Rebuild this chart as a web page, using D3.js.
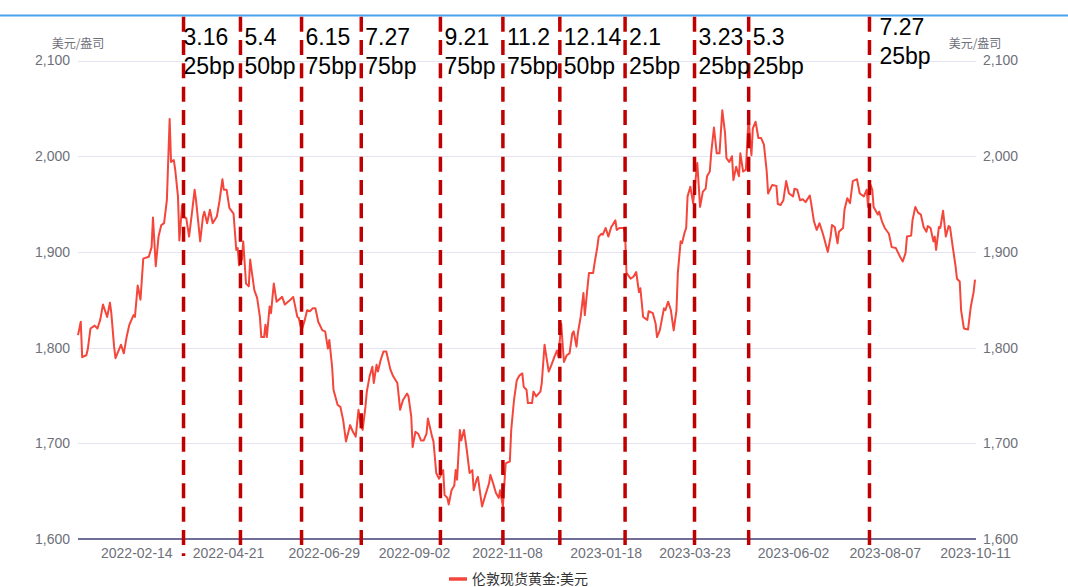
<!DOCTYPE html>
<html><head><meta charset="utf-8">
<script src="https://cdn.jsdelivr.net/npm/d3@7"></script>
<style>html,body{margin:0;padding:0;background:#fff;} svg{display:block;}</style>
</head><body><svg id="chart" width="1068" height="587"></svg>
<script>
// ---- data ----
const dates = [
"2022-01-03","2022-01-05","2022-01-06","2022-01-09","2022-01-10","2022-01-12","2022-01-15","2022-01-17","2022-01-19","2022-01-21",
"2022-01-24","2022-01-26","2022-01-27","2022-01-29","2022-01-30","2022-02-01","2022-02-03","2022-02-05","2022-02-07","2022-02-09",
"2022-02-12","2022-02-13","2022-02-15","2022-02-17","2022-02-19","2022-02-23","2022-02-25","2022-02-26","2022-02-28","2022-03-02",
"2022-03-04","2022-03-06","2022-03-08","2022-03-10","2022-03-11","2022-03-13","2022-03-14","2022-03-16","2022-03-17","2022-03-19",
"2022-03-20","2022-03-22","2022-03-24","2022-03-26","2022-03-28","2022-03-29","2022-04-01","2022-04-03","2022-04-04","2022-04-06",
"2022-04-08","2022-04-10","2022-04-13","2022-04-15","2022-04-17","2022-04-18","2022-04-20","2022-04-22","2022-04-25","2022-04-27",
"2022-04-28","2022-04-29","2022-05-01","2022-05-02","2022-05-04","2022-05-06","2022-05-07","2022-05-08","2022-05-10","2022-05-12",
"2022-05-14","2022-05-15","2022-05-17","2022-05-18","2022-05-19","2022-05-21","2022-05-22","2022-05-24","2022-05-26","2022-05-30",
"2022-06-01","2022-06-05","2022-06-07","2022-06-10","2022-06-11","2022-06-13","2022-06-15","2022-06-17","2022-06-19","2022-06-21",
"2022-06-23","2022-06-25","2022-06-28","2022-06-30","2022-07-02","2022-07-03","2022-07-05","2022-07-06","2022-07-09","2022-07-11",
"2022-07-13","2022-07-15","2022-07-18","2022-07-20","2022-07-22","2022-07-24","2022-07-26","2022-07-27","2022-07-29","2022-07-30",
"2022-08-01","2022-08-03","2022-08-04","2022-08-06","2022-08-07","2022-08-09","2022-08-11","2022-08-13","2022-08-16","2022-08-18",
"2022-08-21","2022-08-22","2022-08-23","2022-08-25","2022-08-28","2022-08-29","2022-08-31","2022-09-01","2022-09-03","2022-09-05",
"2022-09-07","2022-09-09","2022-09-11","2022-09-12","2022-09-15","2022-09-16","2022-09-18","2022-09-20","2022-09-23","2022-09-24",
"2022-09-26","2022-09-27","2022-09-29","2022-10-01","2022-10-02","2022-10-03","2022-10-05","2022-10-06","2022-10-08","2022-10-10",
"2022-10-12","2022-10-14","2022-10-15","2022-10-17","2022-10-18","2022-10-20","2022-10-21","2022-10-23","2022-10-26","2022-10-27",
"2022-10-29","2022-10-31","2022-11-02","2022-11-03","2022-11-05","2022-11-07","2022-11-10","2022-11-11","2022-11-13","2022-11-15",
"2022-11-17","2022-11-19","2022-11-20","2022-11-22","2022-11-23","2022-11-26","2022-11-27","2022-11-29","2022-12-02","2022-12-03",
"2022-12-05","2022-12-07","2022-12-08","2022-12-10","2022-12-12","2022-12-14","2022-12-15","2022-12-17","2022-12-18","2022-12-19",
"2022-12-21","2022-12-23","2022-12-25","2022-12-26","2022-12-28","2022-12-29","2022-12-31","2023-01-02","2023-01-03","2023-01-05",
"2023-01-06","2023-01-09","2023-01-10","2023-01-12","2023-01-13","2023-01-15","2023-01-16","2023-01-18","2023-01-20","2023-01-22",
"2023-01-23","2023-01-25","2023-01-26","2023-01-28","2023-01-31","2023-02-01","2023-02-02","2023-02-05","2023-02-07","2023-02-09",
"2023-02-11","2023-02-12","2023-02-14","2023-02-17","2023-02-18","2023-02-21","2023-02-23","2023-02-24","2023-02-26","2023-03-01",
"2023-03-02","2023-03-04","2023-03-06","2023-03-08","2023-03-10","2023-03-11","2023-03-13","2023-03-14","2023-03-16","2023-03-17",
"2023-03-18","2023-03-20","2023-03-22","2023-03-23","2023-03-25","2023-03-27","2023-03-29","2023-03-31","2023-04-01","2023-04-03",
"2023-04-04","2023-04-06","2023-04-08","2023-04-10","2023-04-12","2023-04-14","2023-04-15","2023-04-17","2023-04-19","2023-04-20",
"2023-04-22","2023-04-24","2023-04-25","2023-04-27","2023-04-29","2023-05-01","2023-05-02","2023-05-03","2023-05-04","2023-05-06",
"2023-05-08","2023-05-10","2023-05-12","2023-05-14","2023-05-15","2023-05-18","2023-05-21","2023-05-22","2023-05-24","2023-05-26",
"2023-05-28","2023-05-30","2023-06-02","2023-06-03","2023-06-05","2023-06-07","2023-06-09","2023-06-11","2023-06-14","2023-06-15",
"2023-06-17","2023-06-19","2023-06-21","2023-06-23","2023-06-24","2023-06-27","2023-06-29","2023-06-30","2023-07-02","2023-07-04",
"2023-07-05","2023-07-08","2023-07-09","2023-07-11","2023-07-13","2023-07-15","2023-07-18","2023-07-20","2023-07-23","2023-07-25",
"2023-07-26","2023-07-27","2023-07-29","2023-07-30","2023-08-02","2023-08-03","2023-08-05","2023-08-07","2023-08-10","2023-08-12",
"2023-08-15","2023-08-18","2023-08-20","2023-08-22","2023-08-23","2023-08-26","2023-08-27","2023-08-29","2023-08-31","2023-09-02",
"2023-09-04","2023-09-06","2023-09-07","2023-09-09","2023-09-11","2023-09-12","2023-09-13","2023-09-15","2023-09-16","2023-09-18",
"2023-09-20","2023-09-22","2023-09-23","2023-09-25","2023-09-27","2023-09-28","2023-09-30","2023-10-01","2023-10-03","2023-10-06",
"2023-10-08","2023-10-10","2023-10-11"
];
const prices = [
1813,1827,1790,1792,1798,1820,1823,1820,1829,1845,
1832,1847,1836,1801,1789,1796,1803,1794,1811,1824,
1834,1832,1865,1850,1893,1895,1905,1936,1885,1916,
1928,1930,1954,2039,1994,1996,1986,1958,1912,1949,
1937,1935,1916,1940,1965,1954,1911,1937,1942,1930,
1944,1930,1937,1954,1976,1965,1965,1946,1940,1902,
1904,1886,1892,1911,1867,1864,1892,1881,1860,1852,
1832,1811,1811,1824,1811,1843,1836,1867,1848,1853,
1845,1850,1853,1832,1831,1818,1827,1839,1838,1841,
1841,1827,1818,1817,1799,1808,1780,1756,1740,1738,
1724,1702,1719,1712,1707,1735,1717,1714,1738,1754,
1770,1780,1763,1782,1775,1787,1796,1796,1777,1770,
1763,1749,1735,1745,1752,1749,1728,1696,1712,1710,
1703,1703,1710,1726,1707,1702,1669,1663,1672,1646,
1643,1636,1651,1656,1672,1662,1714,1703,1714,1693,
1669,1672,1651,1662,1665,1644,1634,1644,1658,1667,
1658,1648,1643,1651,1634,1679,1681,1714,1745,1766,
1771,1773,1759,1756,1742,1742,1754,1749,1754,1763,
1803,1784,1775,1782,1790,1797,1790,1825,1804,1785,
1792,1794,1815,1817,1801,1815,1832,1857,1834,1864,
1878,1878,1888,1905,1916,1919,1918,1925,1916,1926,
1928,1933,1923,1925,1925,1919,1878,1872,1874,1879,
1858,1862,1832,1829,1838,1836,1825,1811,1818,1841,
1839,1848,1839,1818,1839,1878,1911,1909,1921,1925,
1958,1968,1951,1965,1993,1947,1963,1966,1979,1984,
2003,2030,2003,2003,2048,2024,1998,1994,2000,1975,
1989,1979,2003,1984,1986,2043,2017,2001,2029,2036,
2019,2019,2012,1984,1961,1970,1969,1950,1949,1954,
1974,1961,1958,1966,1965,1954,1955,1952,1959,1951,
1932,1923,1930,1921,1916,1900,1916,1928,1926,1909,
1921,1925,1944,1956,1951,1974,1976,1961,1958,1965,
1947,1973,1965,1947,1939,1942,1932,1925,1919,1905,
1904,1895,1890,1899,1916,1917,1933,1947,1941,1939,
1926,1921,1927,1925,1911,1916,1902,1926,1925,1943,
1916,1927,1926,1905,1885,1872,1869,1839,1820,1819,
1843,1858,1871
];
const yTicks = [1600, 1700, 1800, 1900, 2000, 2100];
const xTickDates = ["2022-02-14","2022-04-21","2022-06-29","2022-09-02","2022-11-08",
                    "2023-01-18","2023-03-23","2023-06-02","2023-08-07","2023-10-11"];
const fomcDates = ["2022-03-20","2022-04-30","2022-06-13","2022-07-26","2022-09-21","2022-11-05",
                   "2022-12-16","2023-02-01","2023-03-23","2023-05-01","2023-07-27"];
const fomcLabels = ["3.16","5.4","6.15","7.27","9.21","11.2","12.14","2.1","3.23","5.3","7.27"];
const hikeLabels = ["25bp","50bp","75bp","75bp","75bp","75bp","50bp","25bp","25bp","25bp","25bp"];
const unitLabel = "美元/盎司";
const seriesName = "伦敦现货黄金:美元";

// ---- drawing ----
const parse = d3.utcParse("%Y-%m-%d");
const data = dates.map((d, i) => ({date: parse(d), value: prices[i]}));
const svg = d3.select("#chart");
const W = 1068, H = 587;
const L = 78, R = 975, T = 60.5, B = 539;
const latin = "'Liberation Sans', Arial, sans-serif";
const cjk = "'Noto Sans CJK SC', sans-serif";
const axisGrey = "#6e7079";

svg.append("rect").attr("width", W).attr("height", H).attr("fill", "#fff");

const x = d3.scaleUtc().domain(d3.extent(data, d => d.date)).range([L, R]);
const y = d3.scaleLinear().domain([1600, 2100]).range([B, T]);

// top blue rule
svg.append("line").attr("x1", 0).attr("x2", W).attr("y1", 15.5).attr("y2", 15.5)
  .attr("stroke", "#4aa2ee").attr("stroke-width", 2);

// grid lines
svg.append("g").selectAll("line").data(yTicks.filter(t => t !== 1600)).join("line")
  .attr("x1", L).attr("x2", R + 1)
  .attr("y1", d => Math.round(y(d)) + 0.5).attr("y2", d => Math.round(y(d)) + 0.5)
  .attr("stroke", "#e3e3f1").attr("stroke-width", 1);

// y axes (left & right)
const fmt = d3.format(",");
const yl = svg.append("g").attr("transform", `translate(${L},0)`)
  .call(d3.axisLeft(y).tickValues(yTicks).tickFormat(fmt).tickSize(0).tickPadding(8));
const yr = svg.append("g").attr("transform", `translate(${R},0)`)
  .call(d3.axisRight(y).tickValues(yTicks).tickFormat(fmt).tickSize(0).tickPadding(8));
[yl, yr].forEach(g => {
  g.select(".domain").remove();
  g.selectAll("text").attr("fill", axisGrey).style("font-family", latin).style("font-size", "14px");
});

// unit names
svg.append("text").attr("x", L).attr("y", 48).attr("text-anchor", "middle")
  .attr("fill", axisGrey).style("font-family", cjk).style("font-size", "12px").text(unitLabel);
svg.append("text").attr("x", R).attr("y", 48).attr("text-anchor", "middle")
  .attr("fill", axisGrey).style("font-family", cjk).style("font-size", "12px").text(unitLabel);

// x axis
const xa = svg.append("g").attr("transform", `translate(0,${B})`)
  .call(d3.axisBottom(x).tickValues(xTickDates.map(parse)).tickFormat(d3.utcFormat("%Y-%m-%d"))
    .tickSize(0).tickPadding(0));
xa.select(".domain").remove();
xa.selectAll("text").attr("fill", axisGrey).attr("dy", null).attr("y", 19)
  .style("font-family", latin).style("font-size", "14px");

svg.append("line").attr("x1", L).attr("x2", R + 1).attr("y1", B).attr("y2", B)
  .attr("stroke", "#6e6e96").attr("stroke-width", 2);

// price line
const line = d3.line().x(d => x(d.date)).y(d => y(d.value)).curve(d3.curveLinear);
svg.append("path").datum(data).attr("d", line)
  .attr("fill", "none").attr("stroke", "#f4463b").attr("stroke-width", 2)
  .attr("stroke-linejoin", "round");

// FOMC dashed lines and labels
const fomc = fomcDates.map((d, i) => ({date: parse(d), l1: fomcLabels[i], l2: hikeLabels[i],
  first: i === 0, last: i === fomcDates.length - 1}));
const fg = svg.append("g");
fg.selectAll("line").data(fomc).join("line")
  .attr("x1", d => x(d.date)).attr("x2", d => x(d.date))
  .attr("y1", 16.7).attr("y2", d => d.first ? 556 : 546)
  .attr("stroke", "#c00000").attr("stroke-width", 3.5)
  .attr("stroke-dasharray", "15,8.33");
const tg = fg.selectAll("g.lab").data(fomc).join("g").attr("class", "lab")
  .attr("transform", d => `translate(${x(d.date) + (d.last ? 10 : d.first ? 0 : 4)},${d.last ? -10 : 0})`);
tg.append("text").attr("y", 45).text(d => d.l1)
  .attr("fill", "#000").style("font-family", latin).style("font-size", "23px");
tg.append("text").attr("y", 73.5).text(d => d.l2)
  .attr("fill", "#000").style("font-family", latin).style("font-size", "23px");

// legend
const lg = svg.append("g");
lg.append("line").attr("x1", 449).attr("x2", 467).attr("y1", 579).attr("y2", 579)
  .attr("stroke", "#f4463b").attr("stroke-width", 3.5);
lg.append("text").attr("x", 472).attr("y", 584).text(seriesName)
  .attr("fill", "#333").style("font-family", cjk).style("font-size", "14px");
</script>
</body></html>
